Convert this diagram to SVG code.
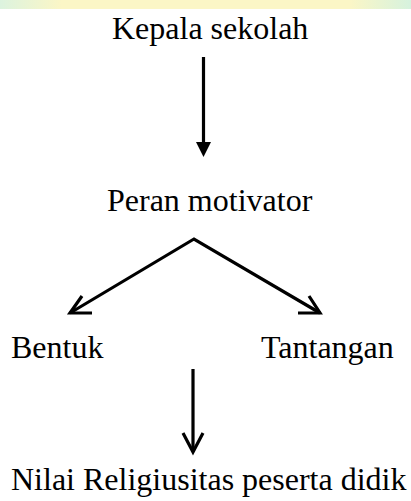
<svg xmlns="http://www.w3.org/2000/svg" width="411" height="501" viewBox="0 0 411 501">
  <defs>
    <linearGradient id="wm" x1="0" y1="0" x2="1" y2="0">
      <stop offset="0" stop-color="#dcf3df"/>
      <stop offset="0.15" stop-color="#fbf6c6"/>
      <stop offset="0.85" stop-color="#fbf6c6"/>
      <stop offset="1" stop-color="#d6f2de"/>
    </linearGradient>
  </defs>
  <style>
    text { font-family: "Liberation Serif", "Times New Roman", serif; font-size: 32px; fill: #000; }
    .ln { stroke: #000; stroke-width: 3.2; fill: none; }
    .head { fill: #000; stroke: none; }
  </style>
  <rect x="0" y="0" width="411" height="501" fill="#fff"/>
  <rect x="0" y="0" width="411" height="9" fill="url(#wm)"/>

  <g id="kepala"><text x="112" y="39">Kepala sekolah</text></g>
  <g id="peran"><text x="107" y="211">Peran motivator</text></g>
  <g id="bentuk"><text x="11" y="358">Bentuk</text></g>
  <g id="tantangan"><text x="261" y="358">Tantangan</text></g>
  <g id="nilai"><text x="11" y="490">Nilai Religiusitas peserta didik</text></g>

  <g id="connectors">
    <line class="ln" x1="203.5" y1="57" x2="203.5" y2="144"/>
    <polygon class="head" points="196,142 211,142 203.5,157"/>
    <polyline class="ln" points="70,313 194,239 320,313"/>
    <polyline class="ln" points="82,296 70,313 92,313"/>
    <polyline class="ln" points="309,296 320,313 298,313"/>
    <line class="ln" x1="193" y1="369" x2="193" y2="452"/>
    <polyline class="ln" points="183,433 193,452 203,433"/>
  </g>
</svg>
